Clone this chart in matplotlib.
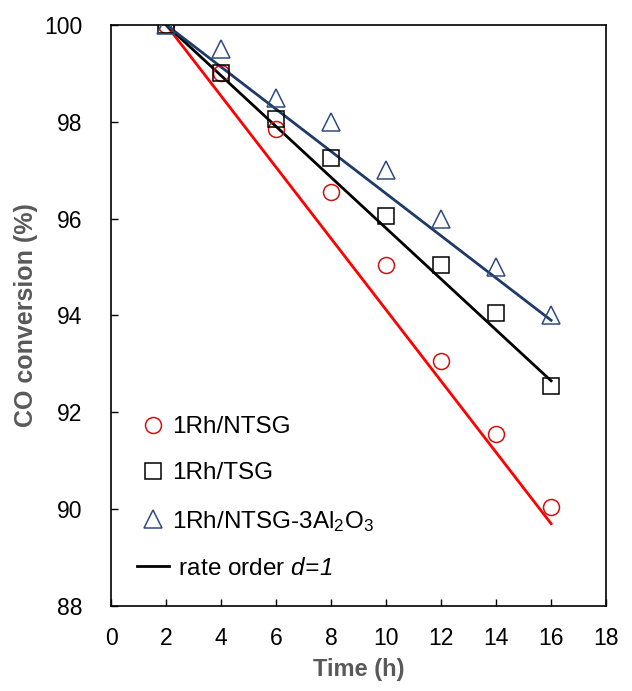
import matplotlib

matplotlib.use("Agg")
import matplotlib.pyplot as plt

plt.rcParams["font.family"] = "sans-serif"
plt.rcParams["font.sans-serif"] = ["Liberation Sans", "DejaVu Sans"]
plt.rcParams["mathtext.fontset"] = "custom"
plt.rcParams["mathtext.rm"] = "Liberation Sans"
plt.rcParams["mathtext.it"] = "Liberation Sans:italic"
plt.rcParams["mathtext.sf"] = "Liberation Sans:italic"

# measured points
time_h = [2, 4, 6, 8, 10, 12, 14, 16]
conv_ntsg = [100, 99.0, 97.85, 96.55, 95.05, 93.05, 91.55, 90.05]
conv_tsg = [100, 99.0, 98.05, 97.25, 96.05, 95.05, 94.05, 92.55]
conv_al = [100, 99.5, 98.5, 98.0, 97.0, 96.0, 95.0, 94.0]

# rate order d=1 fit lines (end points)
fit_t = [2, 16]
fit_ntsg = [100, 89.7]
fit_tsg = [100, 92.65]
fit_al = [100, 93.9]

labels = ["1Rh/NTSG", "1Rh/TSG", r"1Rh/NTSG-3Al$_2$O$_3$", r" rate order $\mathsf{d\!=\!1}$"]

RED_PT = "#D01010"
RED_LN = "#FF0000"
NAVY_PT = "#2F4B7C"
NAVY_LN = "#1F3A68"

fig = plt.figure(figsize=(6.32, 6.91), dpi=100)
ax = fig.add_axes([0.176, 0.123, 0.783, 0.841])

ax.plot(fit_t, fit_ntsg, color=RED_LN, lw=2.0, zorder=2)
ax.plot(fit_t, fit_tsg, color="black", lw=2.0, zorder=2)
ax.plot(fit_t, fit_al, color=NAVY_LN, lw=2.0, zorder=2)

ms = 11.5
h1, = ax.plot(time_h, conv_ntsg, ls="none", marker="o", ms=ms, mfc="none", mec=RED_PT, mew=1.1, zorder=3)
h2, = ax.plot(time_h, conv_tsg, ls="none", marker="s", ms=ms, mfc="none", mec="black", mew=1.1, zorder=3)
h3, = ax.plot(time_h, conv_al, ls="none", marker="^", ms=ms + 1.5, mfc="none", mec=NAVY_PT, mew=1.1, zorder=3)
h4, = ax.plot([], [], color="black", lw=2.0)

ax.set_xlim(0, 18)
ax.set_ylim(88, 100)
ax.set_xticks(range(0, 19, 2))
ax.set_yticks(range(88, 101, 2))
ax.tick_params(direction="in", length=5, width=1.0, labelsize=16.5)
ax.tick_params(axis="x", pad=15)
ax.tick_params(axis="y", pad=21)
for s in ax.spines.values():
    s.set_linewidth(1.2)

ax.set_xlabel("Time (h)", fontsize=17, fontweight="bold", color="#595959", labelpad=6)
ax.set_ylabel("CO conversion (%)", fontsize=18, fontweight="bold", color="#595959", labelpad=4)

ax.legend([h1, h2, h3, h4], labels, loc="lower left", bbox_to_anchor=(0.052, 0.045),
          frameon=False, fontsize=17.5, labelspacing=1.0, handlelength=1.3,
          handletextpad=0.15, borderpad=0, borderaxespad=0)

fig.savefig("out.png", dpi=100)
